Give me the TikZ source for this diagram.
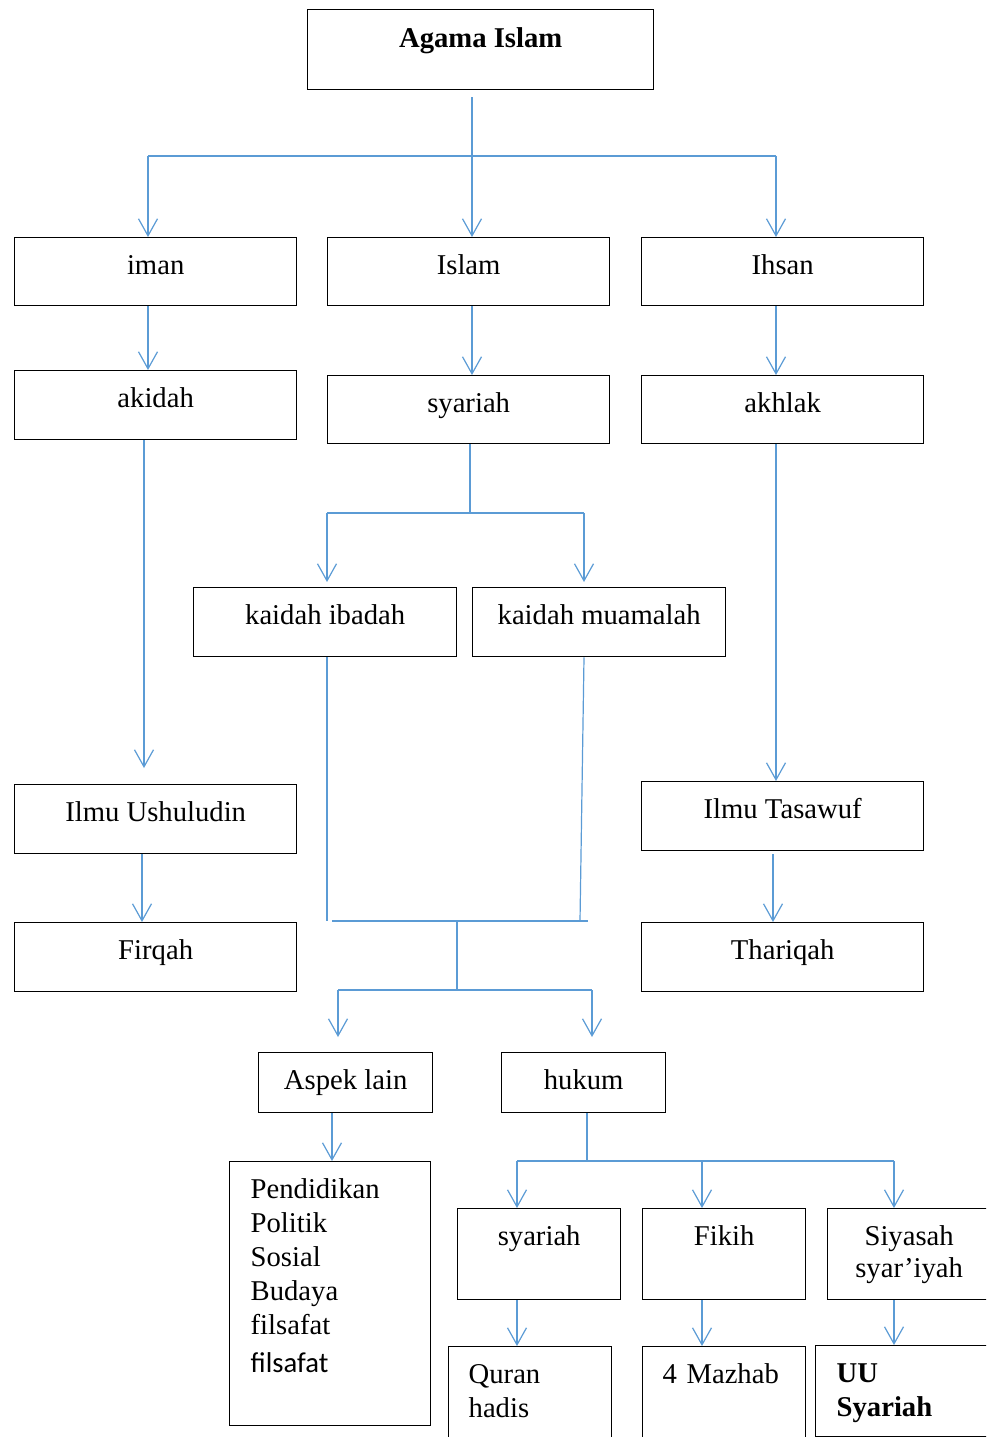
\documentclass[tikz,border=0pt]{standalone}
\usepackage{fontspec}
\setmainfont{Liberation Serif}
\newfontfamily\calibrifont{Carlito}
\usetikzlibrary{arrows.meta}
\definecolor{garisbiru}{HTML}{5B9BD5}

\begin{document}
\begin{tikzpicture}[x=0.75pt, y=-0.75pt,
    kotak/.style={draw, line width=1pt, anchor=north west, inner xsep=0pt, inner ysep=0pt,
      font=\fontsize{21.5}{25.5}\selectfont, text height=27.75pt},
    garis/.style={garisbiru, line width=0.9pt},
    panah/.style={garis, -{Straight Barb[length=12.75pt, width=14.25pt]}}]
  \useasboundingbox (0,0) rectangle (986,1437);
  \clip (0,0) rectangle (986,1437);

  \node[kotak, minimum width=259.5pt, text height=28.5pt, text depth=31.5pt,
    font=\fontsize{21.5}{25.5}\selectfont\bfseries] (agama) at (307,9) {Agama Islam};

  \node[kotak, minimum width=211.5pt, text depth=23.25pt] (iman) at (14,237) {iman};
  \node[kotak, minimum width=211.5pt, text depth=23.25pt] (islam) at (327,237) {Islam};
  \node[kotak, minimum width=211.5pt, text depth=23.25pt] (ihsan) at (641,237) {Ihsan};

  \node[kotak, minimum width=211.5pt, text depth=24pt] (akidah) at (14,370) {akidah};
  \node[kotak, minimum width=211.5pt, text depth=23.25pt] (syariah) at (327,375) {syariah};
  \node[kotak, minimum width=211.5pt, text depth=23.25pt] (akhlak) at (641,375) {akhlak};

  \node[kotak, minimum width=197.25pt, text depth=24pt] (ibadah) at (193,587) {kaidah ibadah};
  \node[kotak, minimum width=189.75pt, text depth=24pt] (muamalah) at (472,587) {kaidah muamalah};

  \node[kotak, minimum width=211.5pt, text depth=24pt] (ushuludin) at (14,784) {Ilmu Ushuludin};
  \node[kotak, minimum width=211.5pt, text depth=24pt] (tasawuf) at (641,781) {Ilmu Tasawuf};
  \node[kotak, minimum width=211.5pt, text depth=24pt] (firqah) at (14,922) {Firqah};
  \node[kotak, minimum width=211.5pt, text depth=24pt] (thariqah) at (641,922) {Thariqah};

  \node[kotak, minimum width=130.5pt, text depth=17.25pt] (aspek) at (258,1052) {Aspek lain};
  \node[kotak, minimum width=123pt, text depth=17.25pt] (hukum) at (501,1052) {hukum};

  \node[kotak, align=left, inner xsep=15.75pt, text width=119.25pt, text depth=170.25pt] (daftar) at (229,1161)
    {Pendidikan\\Politik\\Sosial\\Budaya\\filsafat\\[3pt]{\calibrifont filsafat}};

  \node[kotak, minimum width=122.25pt, text depth=40.5pt] (syariahdua) at (457,1208) {syariah};
  \node[kotak, minimum width=122.25pt, text depth=40.5pt] (fikih) at (642,1208) {Fikih};
  \node[kotak, align=center, text width=122.25pt, text depth=40.5pt] (siyasah) at (827,1208)
    {Siyasah\\[-1.5pt]syar’iyah};

  \node[kotak, align=left, inner xsep=15pt, text width=92.25pt, text depth=47.25pt] (quran) at (448,1346)
    {Quran\\hadis};
  \node[kotak, align=left, inner xsep=15pt, text width=92.25pt, text depth=47.25pt] (mazhab) at (642,1346)
    {4 Mazhab};
  \node[kotak, align=left, inner xsep=15.75pt, text width=99.75pt, text depth=40.5pt,
    font=\fontsize{21.5}{25.5}\selectfont\bfseries] (uu) at (815,1345) {UU\\Syariah};

  % cabang atas
  \coordinate (c1a) at (148,156);
  \coordinate (c1b) at (776,156);
  \draw[panah, shorten <=5.25pt] (agama.south -| 472,0) -- (islam.north -| 472,0);
  \draw[garis] (c1a) -- (c1b);
  \draw[panah] (c1a) -- (c1a |- iman.north);
  \draw[panah] (c1b) -- (c1b |- ihsan.north);

  \draw[panah] (iman.south -| c1a) -- (akidah.north -| c1a);
  \draw[panah] (islam.south -| 472,0) -- (syariah.north -| 472,0);
  \draw[panah] (ihsan.south -| c1b) -- (akhlak.north -| c1b);
  \draw[panah, shorten >=12pt] (akidah.south -| 144,0) -- (ushuludin.north -| 144,0);
  \draw[panah] (akhlak.south -| c1b) -- (tasawuf.north -| c1b);
  \draw[panah] (ushuludin.south -| 142,0) -- (firqah.north -| 142,0);
  \draw[panah, shorten <=2.25pt] (tasawuf.south -| 773,0) -- (thariqah.north -| 773,0);

  % cabang syariah
  \coordinate (c2) at (470,513);
  \coordinate (c2a) at (327,513);
  \coordinate (c2b) at (584,513);
  \draw[garis] (syariah.south -| c2) -- (c2);
  \draw[garis] (c2a) -- (c2b);
  \draw[panah, shorten >=3.75pt] (c2a) -- (c2a |- ibadah.north);
  \draw[panah, shorten >=3.75pt] (c2b) -- (c2b |- muamalah.north);

  % gabungan kaidah
  \coordinate (g1) at (327,921);
  \coordinate (g2) at (580,921);
  \coordinate (g3) at (457,921);
  \coordinate (g4) at (457,990);
  \coordinate (g4a) at (338,990);
  \coordinate (g4b) at (592,990);
  \draw[garis] (ibadah.south -| g1) -- (g1);
  \draw[garis] (muamalah.south -| 584,0) -- (g2);
  \draw[garis] ([xshift=3.75pt]g1) -- ([xshift=6pt]g2);
  \draw[garis] (g3) -- (g4);
  \draw[garis] (g4a) -- (g4b);
  \draw[panah, shorten >=11.25pt] (g4a) -- (g4a |- aspek.north);
  \draw[panah, shorten >=11.25pt] (g4b) -- (g4b |- hukum.north);
  \draw[panah] (aspek.south -| 332,0) -- (daftar.north -| 332,0);

  % cabang hukum
  \coordinate (c3) at (587,1161);
  \coordinate (c3a) at (517,1161);
  \coordinate (c3b) at (702,1161);
  \coordinate (c3c) at (894,1161);
  \draw[garis] (hukum.south -| c3) -- (c3);
  \draw[garis] (c3a) -- (c3c);
  \draw[panah] (c3a) -- (c3a |- syariahdua.north);
  \draw[panah] (c3b) -- (c3b |- fikih.north);
  \draw[panah] (c3c) -- (c3c |- siyasah.north);
  \draw[panah] (syariahdua.south -| c3a) -- (quran.north -| c3a);
  \draw[panah] (fikih.south -| c3b) -- (mazhab.north -| c3b);
  \draw[panah] (siyasah.south -| c3c) -- (uu.north -| c3c);
\end{tikzpicture}
\end{document}
